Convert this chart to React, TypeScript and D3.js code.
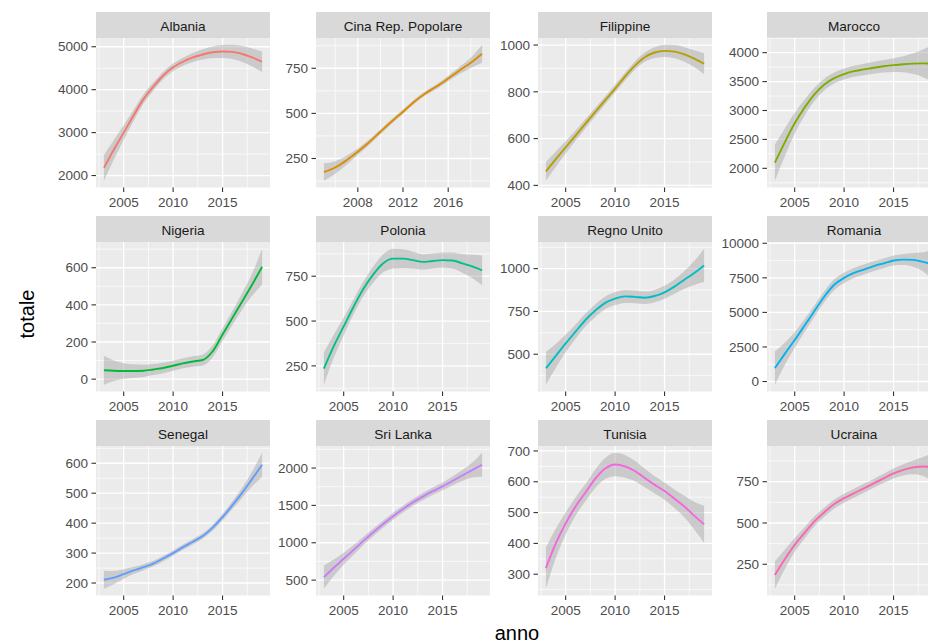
import React from "react";
import * as d3 from "d3";

// Years covered by each series
const YEARS = [2003, 2004, 2005, 2006, 2007, 2008, 2009, 2010, 2011, 2012, 2013, 2014, 2015, 2016, 2017, 2018, 2019];
const YEARS_CINA = [2005, 2006, 2007, 2008, 2009, 2010, 2011, 2012, 2013, 2014, 2015, 2016, 2017, 2018, 2019];

// Smoothed totals (fit) and half-width of the confidence band, per country
const albaniaFit = [2180, 2600, 3000, 3400, 3780, 4070, 4330, 4520, 4650, 4750, 4820, 4870, 4890, 4880, 4830, 4750, 4650];
const albaniaBand = [300, 230, 170, 130, 110, 95, 90, 90, 95, 105, 120, 135, 150, 165, 185, 210, 240];

const cinaFit = [175, 200, 240, 287, 340, 398, 455, 509, 565, 612, 650, 693, 738, 780, 830];
const cinaBand = [48, 35, 25, 18, 15, 13, 12, 12, 12, 12, 13, 15, 20, 28, 50];

const filippineFit = [460, 512, 563, 613, 664, 714, 764, 814, 865, 912, 948, 968, 975, 972, 960, 942, 920];
const filippineBand = [40, 33, 27, 22, 20, 18, 17, 17, 17, 18, 20, 23, 26, 28, 31, 36, 45];

const maroccoFit = [2100, 2450, 2780, 3050, 3280, 3450, 3560, 3630, 3680, 3710, 3740, 3765, 3785, 3800, 3810, 3815, 3810];
const maroccoBand = [314, 240, 180, 140, 115, 100, 95, 95, 95, 100, 105, 110, 120, 140, 180, 240, 326];

const nigeriaFit = [48, 45, 44, 44, 45, 52, 60, 72, 85, 95, 103, 150, 240, 330, 420, 510, 605];
const nigeriaBand = [78, 55, 42, 36, 33, 30, 28, 27, 27, 28, 30, 32, 34, 38, 45, 60, 97];

const poloniaFit = [235, 360, 470, 580, 680, 760, 822, 848, 848, 840, 830, 835, 840, 838, 822, 805, 783];
const poloniaBand = [90, 65, 50, 42, 40, 45, 50, 55, 52, 47, 43, 42, 42, 45, 52, 65, 83];

const regnoUnitoFit = [418, 490, 563, 632, 700, 755, 800, 825, 838, 835, 830, 840, 862, 895, 935, 975, 1019];
const regnoUnitoBand = [96, 70, 52, 42, 38, 37, 37, 38, 38, 37, 36, 36, 38, 42, 52, 70, 97];

const romaniaFit = [970, 2000, 3000, 4050, 5100, 6150, 7000, 7500, 7850, 8100, 8350, 8550, 8750, 8820, 8800, 8650, 8450];
const romaniaBand = [1200, 800, 580, 470, 420, 400, 390, 380, 370, 360, 350, 350, 360, 400, 500, 700, 1150];

const senegalFit = [211, 218, 230, 242, 253, 265, 282, 300, 320, 338, 357, 385, 420, 460, 502, 548, 595];
const senegalBand = [30, 22, 16, 12, 10, 9, 9, 9, 9, 9, 9, 10, 11, 13, 17, 25, 40];

const sriLankaFit = [540, 665, 785, 905, 1025, 1140, 1250, 1355, 1452, 1540, 1618, 1690, 1755, 1827, 1900, 1972, 2044];
const sriLankaBand = [155, 110, 80, 65, 55, 50, 48, 47, 47, 47, 48, 50, 53, 60, 75, 100, 160];

const tunisiaFit = [320, 400, 465, 520, 565, 610, 643, 656, 650, 635, 612, 590, 570, 545, 520, 490, 462];
const tunisiaBand = [67, 48, 36, 30, 28, 30, 34, 38, 37, 33, 30, 28, 28, 30, 35, 45, 60];

const ucrainaFit = [185, 280, 367, 440, 510, 565, 615, 650, 680, 710, 740, 770, 800, 822, 837, 842, 838];
const ucrainaBand = [83, 58, 42, 34, 30, 28, 27, 27, 27, 27, 27, 28, 30, 34, 42, 58, 87];

// Tick labels
const X_TICKS = [2005, 2010, 2015];
const X_TICKS_CINA = [2008, 2012, 2016];
const albaniaTicks = [2000, 3000, 4000, 5000];
const cinaTicks = [250, 500, 750];
const filippineTicks = [400, 600, 800, 1000];
const maroccoTicks = [2000, 2500, 3000, 3500, 4000];
const nigeriaTicks = [0, 200, 400, 600];
const poloniaTicks = [250, 500, 750];
const regnoUnitoTicks = [500, 750, 1000];
const romaniaTicks = [0, 2500, 5000, 7500, 10000];
const senegalTicks = [200, 300, 400, 500, 600];
const sriLankaTicks = [500, 1000, 1500, 2000];
const tunisiaTicks = [300, 400, 500, 600, 700];
const ucrainaTicks = [250, 500, 750];

const COUNTRIES = ["Albania", "Cina Rep. Popolare", "Filippine", "Marocco", "Nigeria", "Polonia", "Regno Unito", "Romania", "Senegal", "Sri Lanka", "Tunisia", "Ucraina"];
const HUES = ["#F8766D", "#DE8C00", "#B79F00", "#7CAE00", "#00BA38", "#00C08B", "#00BFC4", "#00B4F0", "#619CFF", "#C77CFF", "#F564E3", "#FF64B0"];

type Panel = { name: string; years: number[]; fit: number[]; band: number[]; xTicks: number[]; yTicks: number[]; color: string };

const seriesList = [
  [YEARS, albaniaFit, albaniaBand, X_TICKS, albaniaTicks],
  [YEARS_CINA, cinaFit, cinaBand, X_TICKS_CINA, cinaTicks],
  [YEARS, filippineFit, filippineBand, X_TICKS, filippineTicks],
  [YEARS, maroccoFit, maroccoBand, X_TICKS, maroccoTicks],
  [YEARS, nigeriaFit, nigeriaBand, X_TICKS, nigeriaTicks],
  [YEARS, poloniaFit, poloniaBand, X_TICKS, poloniaTicks],
  [YEARS, regnoUnitoFit, regnoUnitoBand, X_TICKS, regnoUnitoTicks],
  [YEARS, romaniaFit, romaniaBand, X_TICKS, romaniaTicks],
  [YEARS, senegalFit, senegalBand, X_TICKS, senegalTicks],
  [YEARS, sriLankaFit, sriLankaBand, X_TICKS, sriLankaTicks],
  [YEARS, tunisiaFit, tunisiaBand, X_TICKS, tunisiaTicks],
  [YEARS, ucrainaFit, ucrainaBand, X_TICKS, ucrainaTicks],
];

const PANELS: Panel[] = seriesList.map((s, i) => ({
  name: COUNTRIES[i],
  years: s[0] as number[],
  fit: s[1] as number[],
  band: s[2] as number[],
  xTicks: s[3] as number[],
  yTicks: s[4] as number[],
  color: HUES[i],
}));

// Layout
const WIDTH = 928;
const HEIGHT = 643;
const COL_LEFT = [96, 316, 538, 767];
const PANEL_W = 174;
const STRIP_TOP = [12, 216, 420];
const STRIP_H = 26;
const PANEL_H = 149.5;
const FONT = "'Liberation Sans', Arial, Helvetica, sans-serif";
const TICK_FS = 13.5;
const STRIP_FS = 13.6;

// ggplot-style 5% expansion
function expand(lo: number, hi: number): [number, number] {
  const pad = (hi - lo) * 0.05;
  return [lo - pad, hi + pad];
}

// Minor breaks halfway between major breaks, extended one step each side
function minorBreaks(major: number[], domain: [number, number]): number[] {
  const step = major[1] - major[0];
  const ext = [major[0] - step, ...major, major[major.length - 1] + step];
  const out: number[] = [];
  for (let i = 0; i < ext.length - 1; i++) {
    const m = (ext[i] + ext[i + 1]) / 2;
    if (m >= domain[0] && m <= domain[1]) out.push(m);
  }
  return out;
}

function Facet({ p, col, row }: { p: Panel; col: number; row: number }) {
  const left = COL_LEFT[col];
  const stripTop = STRIP_TOP[row];
  const top = stripTop + STRIP_H;
  const bottom = top + PANEL_H;

  const xDom = expand(d3.min(p.years)!, d3.max(p.years)!);
  const lows = p.fit.map((v, i) => v - p.band[i]);
  const highs = p.fit.map((v, i) => v + p.band[i]);
  const yDom = expand(d3.min(lows)!, d3.max(highs)!);

  const x = d3.scaleLinear().domain(xDom).range([left, left + PANEL_W]);
  const y = d3.scaleLinear().domain(yDom).range([bottom, top]);

  const pts = p.years.map((yr, i) => ({ yr, fit: p.fit[i], lo: lows[i], hi: highs[i] }));
  const area = d3
    .area<typeof pts[number]>()
    .x((d) => x(d.yr))
    .y0((d) => y(d.lo))
    .y1((d) => y(d.hi))
    .curve(d3.curveMonotoneX);
  const line = d3
    .line<typeof pts[number]>()
    .x((d) => x(d.yr))
    .y((d) => y(d.fit))
    .curve(d3.curveMonotoneX);

  const xMinor = minorBreaks(p.xTicks, xDom);
  const yMinor = minorBreaks(p.yTicks, yDom);
  const clipId = `clip-${col}-${row}`;

  return (
    <g>
      <defs>
        <clipPath id={clipId}>
          <rect x={left} y={top} width={PANEL_W} height={PANEL_H} />
        </clipPath>
      </defs>
      <rect x={left} y={stripTop} width={PANEL_W} height={STRIP_H} fill="#D9D9D9" />
      <text x={left + PANEL_W / 2} y={stripTop + 18.5} textAnchor="middle" fontSize={STRIP_FS} fill="#1A1A1A" fontFamily={FONT}>
        {p.name}
      </text>
      <rect x={left} y={top} width={PANEL_W} height={PANEL_H} fill="#EBEBEB" />
      <g stroke="#FFFFFF">
        {yMinor.map((v) => (
          <line key={`ym${v}`} x1={left} x2={left + PANEL_W} y1={y(v)} y2={y(v)} strokeWidth={0.7} />
        ))}
        {xMinor.map((v) => (
          <line key={`xm${v}`} x1={x(v)} x2={x(v)} y1={top} y2={bottom} strokeWidth={0.7} />
        ))}
        {p.yTicks.map((v) => (
          <line key={`yM${v}`} x1={left} x2={left + PANEL_W} y1={y(v)} y2={y(v)} strokeWidth={1.3} />
        ))}
        {p.xTicks.map((v) => (
          <line key={`xM${v}`} x1={x(v)} x2={x(v)} y1={top} y2={bottom} strokeWidth={1.3} />
        ))}
      </g>
      <g clipPath={`url(#${clipId})`}>
        <path d={area(pts) ?? undefined} fill="#999999" fillOpacity={0.4} />
        <path d={line(pts) ?? undefined} fill="none" stroke={p.color} strokeWidth={1.9} />
      </g>
      {p.yTicks.map((v) => (
        <g key={`yt${v}`}>
          <line x1={left - 4.5} x2={left} y1={y(v)} y2={y(v)} stroke="#333333" strokeWidth={1.1} />
          <text x={left - 8} y={y(v)} dy="0.35em" textAnchor="end" fontSize={TICK_FS} fill="#4D4D4D" fontFamily={FONT}>
            {v}
          </text>
        </g>
      ))}
      {p.xTicks.map((v) => (
        <g key={`xt${v}`}>
          <line x1={x(v)} x2={x(v)} y1={bottom} y2={bottom + 4.5} stroke="#333333" strokeWidth={1.1} />
          <text x={x(v)} y={bottom + 19} textAnchor="middle" fontSize={TICK_FS} fill="#4D4D4D" fontFamily={FONT}>
            {v}
          </text>
        </g>
      ))}
    </g>
  );
}

export default function App() {
  return (
    <svg
      width={WIDTH}
      height={HEIGHT}
      viewBox={`0 0 ${WIDTH} ${HEIGHT}`}
      style={{ position: "absolute", left: 0, top: 0, display: "block", background: "#FFFFFF" }}
    >
      <rect x={0} y={0} width={WIDTH} height={HEIGHT} fill="#FFFFFF" />
      {PANELS.map((p, i) => (
        <Facet key={p.name} p={p} col={i % 4} row={Math.floor(i / 4)} />
      ))}
      <text x={517} y={640} textAnchor="middle" fontSize={20} fill="#000000" fontFamily={FONT}>
        anno
      </text>
      <text
        transform="translate(34,314) rotate(-90)"
        textAnchor="middle"
        fontSize={20}
        fill="#000000"
        fontFamily={FONT}
      >
        totale
      </text>
    </svg>
  );
}
